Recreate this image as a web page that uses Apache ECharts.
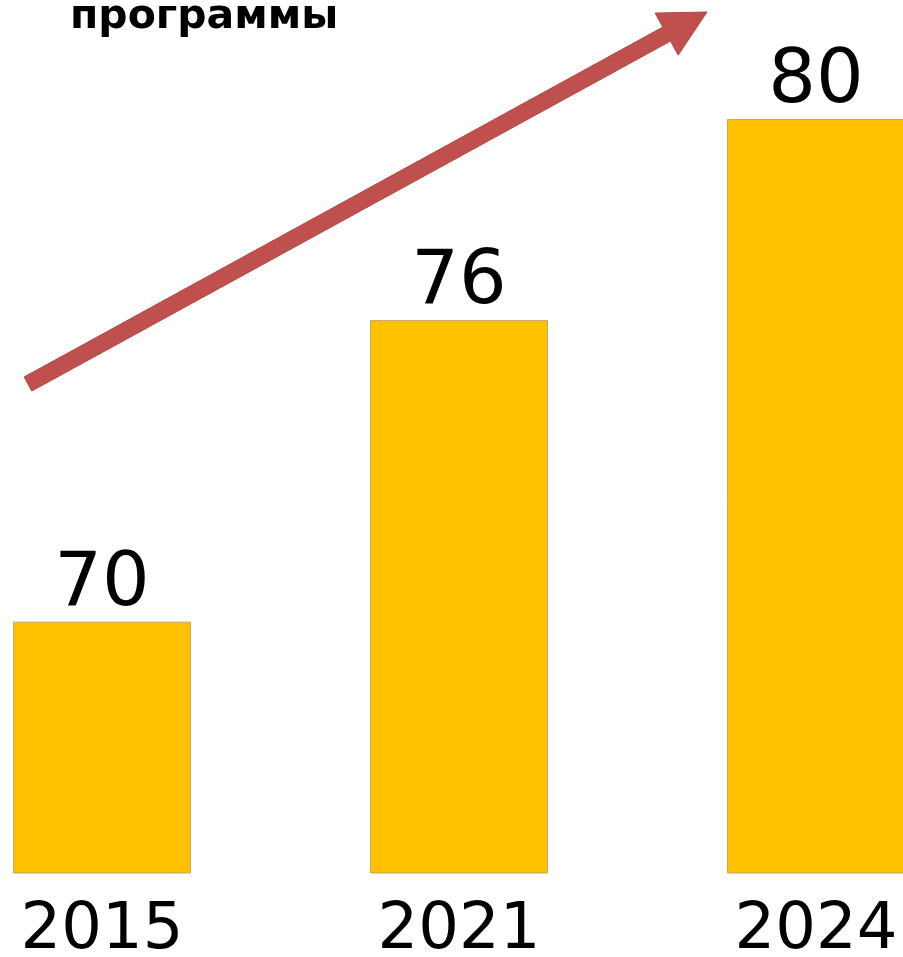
<!DOCTYPE html>
<html>
<head>
<meta charset="utf-8">
<script src="https://cdn.jsdelivr.net/npm/echarts@6/dist/echarts.min.js"></script>
<style>
html,body{margin:0;padding:0;background:#fff;}
#chart{width:903px;height:957px;}
</style>
</head>
<body>
<div id="chart"></div>
<script>
const categories = ['2015', '2021', '2024'];
const values = [70, 76, 80];
const titleText = 'программы';

const chart = echarts.init(document.getElementById('chart'));

// arrow decoration geometry
function arrowPoints(tail, tip, shaftW, headW, headLen) {
  const dx = tip[0] - tail[0], dy = tip[1] - tail[1];
  const L = Math.sqrt(dx*dx + dy*dy);
  const ux = dx / L, uy = dy / L;
  const px = -uy, py = ux;
  const bx = tip[0] - ux*headLen, by = tip[1] - uy*headLen;
  return [
    [tail[0] + px*shaftW/2, tail[1] + py*shaftW/2],
    [bx + px*shaftW/2, by + py*shaftW/2],
    [bx + px*headW/2, by + py*headW/2],
    tip,
    [bx - px*headW/2, by - py*headW/2],
    [bx - px*shaftW/2, by - py*shaftW/2],
    [tail[0] - px*shaftW/2, tail[1] - py*shaftW/2]
  ];
}

chart.setOption({
  backgroundColor: '#ffffff',
  animation: false,
  grid: { left: -76.5, width: 1071, top: 119, bottom: 84, containLabel: false, outerBoundsMode: 'none' },
  xAxis: {
    type: 'category',
    data: categories,
    axisLine: { show: false },
    axisTick: { show: false },
    axisLabel: { color: '#000', fontSize: 64, fontFamily: 'DejaVu Sans', margin: 26 }
  },
  yAxis: {
    type: 'value',
    min: 65, max: 80,
    show: false,
    splitLine: { show: false }
  },
  series: [{
    type: 'bar',
    data: values,
    barWidth: 178,
    itemStyle: { color: '#FFC000', borderColor: '#C4A86A', borderWidth: 1 },
    label: {
      show: true, position: 'top', distance: -1,
      color: '#000', fontSize: 75, fontFamily: 'DejaVu Sans'
    }
  }],
  graphic: [
    {
      type: 'polygon',
      shape: { points: arrowPoints([28, 384], [707, 12], 16, 48, 46) },
      style: { fill: '#C0504D', stroke: '#B04845', lineWidth: 1 }
    },
    {
      type: 'text',
      left: 70, top: -3,
      style: { text: titleText, font: 'bold 41px "DejaVu Sans"', fill: '#000' }
    }
  ]
});
</script>
</body>
</html>
